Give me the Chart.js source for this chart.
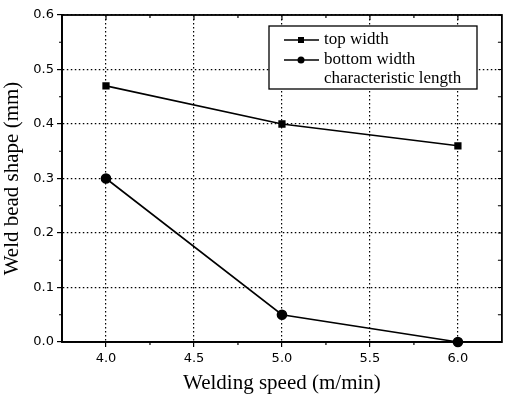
<html>
<head>
    <script src="https://cdn.jsdelivr.net/npm/chart.js@4.4.0/dist/chart.umd.min.js"></script>
    <style>
        body { margin: 0; background: #fff; }
        .chartBox { width: 508px; height: 398px; }
    </style>
</head>
<body>
    <div class="chartBox">
        <canvas id="myChart" width="508" height="398"></canvas>
    </div>
<script>
    const speeds = [4.0, 5.0, 6.0];
    const topWidth = [0.47, 0.40, 0.36];
    const bottomWidth = [0.30, 0.05, 0.0];
    const xTicks = [4.0, 4.5, 5.0, 5.5, 6.0];
    const xMinor = [4.25, 4.75, 5.25, 5.75, 6.25];
    const yTicks = [0.0, 0.1, 0.2, 0.3, 0.4, 0.5, 0.6];
    const yMinor = [0.05, 0.15, 0.25, 0.35, 0.45, 0.55];
    const legendLabels = ['top width', 'bottom width', 'characteristic length'];

    const serif = '"Liberation Serif", "Times New Roman", serif';
    const sans = '"DejaVu Sans", sans-serif';

    // frame, inward ticks on top/right, minor ticks, boxed legend
    const framePlugin = {
        id: 'frame',
        afterDraw(chart) {
            const ctx = chart.ctx;
            const a = chart.chartArea;
            const xs = chart.scales.x;
            const ys = chart.scales.y;
            ctx.save();
            ctx.setLineDash([]);
            ctx.strokeStyle = '#000';
            ctx.lineWidth = 1.8;
            ctx.strokeRect(a.left, a.top, a.right - a.left, a.bottom - a.top);

            ctx.lineWidth = 1.2;
            ctx.beginPath();
            xTicks.forEach(v => {
                const px = xs.getPixelForValue(v);
                ctx.moveTo(px, a.top); ctx.lineTo(px, a.top + 5);
            });
            xMinor.forEach(v => {
                const px = xs.getPixelForValue(v);
                if (px > a.right - 1) return;
                ctx.moveTo(px, a.top); ctx.lineTo(px, a.top + 3);
                ctx.moveTo(px, a.bottom); ctx.lineTo(px, a.bottom + 3);
            });
            yTicks.concat(yMinor).forEach(v => {
                const py = ys.getPixelForValue(v);
                ctx.moveTo(a.right, py); ctx.lineTo(a.right - 4, py);
            });
            yMinor.forEach(v => {
                const py = ys.getPixelForValue(v);
                ctx.moveTo(a.left, py); ctx.lineTo(a.left - 3, py);
            });
            ctx.stroke();

            // legend
            const bx = 269, by = 26, bw = 208, bh = 63;
            ctx.fillStyle = '#fff';
            ctx.fillRect(bx, by, bw, bh);
            ctx.lineWidth = 1.3;
            ctx.strokeRect(bx, by, bw, bh);
            ctx.fillStyle = '#000';
            ctx.font = '17px ' + serif;
            ctx.textBaseline = 'middle';
            const rows = [40, 60, 79];
            legendLabels.forEach((lab, i) => {
                const ry = rows[i];
                if (i < 2) {
                    ctx.beginPath();
                    ctx.lineWidth = 1.5;
                    ctx.moveTo(284, ry); ctx.lineTo(319, ry);
                    ctx.stroke();
                    if (i === 0) {
                        ctx.fillRect(298, ry - 3, 6, 6);
                    } else {
                        ctx.beginPath();
                        ctx.arc(301, ry, 3.5, 0, Math.PI * 2);
                        ctx.fill();
                    }
                }
                ctx.fillText(lab, 324, ry);
            });
            ctx.restore();
        }
    };

    new Chart('myChart', {
        type: 'line',
        data: {
            datasets: [{
                label: legendLabels[0],
                data: speeds.map((s, i) => ({ x: s, y: topWidth[i] })),
                borderColor: '#000',
                backgroundColor: '#000',
                borderWidth: 1.6,
                pointStyle: 'rect',
                pointRadius: 4,
                clip: false
            }, {
                label: legendLabels[1],
                data: speeds.map((s, i) => ({ x: s, y: bottomWidth[i] })),
                borderColor: '#000',
                backgroundColor: '#000',
                borderWidth: 1.6,
                pointStyle: 'circle',
                pointRadius: 4.5,
                clip: false
            }]
        },
        options: {
            responsive: false,
            animation: false,
            layout: { padding: { left: 0, top: 15, right: 3, bottom: 0 } },
            plugins: { legend: { display: false }, tooltip: { enabled: false } },
            scales: {
                x: {
                    type: 'linear',
                    min: 3.75,
                    max: 6.25,
                    afterBuildTicks: s => { s.ticks = xTicks.map(v => ({ value: v })); },
                    afterFit: s => { s.height = 56; },
                    ticks: {
                        color: '#000',
                        font: { family: sans, size: 13 },
                        padding: 4,
                        callback: v => v.toFixed(1)
                    },
                    grid: {
                        color: '#000',
                        lineWidth: 1.2,
                        tickLength: 5,
                        tickBorderDash: [],
                        tickBorderDashOffset: 0
                    },
                    border: { color: '#000', width: 1.8, dash: [1.5, 2.5] },
                    title: {
                        display: true,
                        text: 'Welding speed (m/min)',
                        color: '#000',
                        font: { family: serif, size: 21 },
                        padding: { top: 2, bottom: 2 }
                    }
                },
                y: {
                    min: 0,
                    max: 0.6,
                    afterBuildTicks: s => { s.ticks = yTicks.map(v => ({ value: v })); },
                    afterFit: s => { s.width = 62; },
                    ticks: {
                        color: '#000',
                        font: { family: sans, size: 13 },
                        padding: 3,
                        callback: v => v.toFixed(1)
                    },
                    grid: {
                        color: '#000',
                        lineWidth: 1.2,
                        tickLength: 5,
                        tickBorderDash: []
                    },
                    border: { color: '#000', width: 1.8, dash: [1.5, 2.5] },
                    title: {
                        display: true,
                        text: 'Weld bead shape (mm)',
                        color: '#000',
                        font: { family: serif, size: 21 },
                        padding: { top: 0, bottom: 0 }
                    }
                }
            }
        },
        plugins: [framePlugin]
    });
</script>
</body>
</html>
